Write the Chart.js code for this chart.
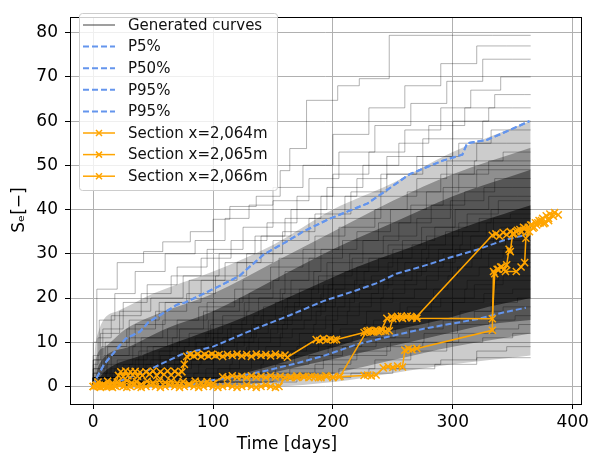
<!DOCTYPE html>
<html>
<head>
<meta charset="utf-8">
<script src="https://cdn.jsdelivr.net/npm/chart.js@4.4.0/dist/chart.umd.min.js"></script>
<style>
  html, body { margin: 0; padding: 0; background: #fff; }
  canvas { display: block; }
</style>
</head>
<body>
<canvas id="chart" width="592" height="458"></canvas>
<script>
// Tick labels
const xTicks = [0, 100, 200, 300, 400];
const yTicks = [0, 10, 20, 30, 40, 50, 60, 70, 80];

// Generated curves, read off the picture as flat [t, S, t, S, ...] step points
const generatedCurves = [
  [0,0, 3,10, 20,22, 42,28, 58,30.5, 81,32.7, 100,35, 114,37.8, 136,40.7, 156,43, 164,48.8, 178,53.8, 204,64.7, 222,68, 247,69.6, 333,79.4, 365,79.4],
  [0,0, 5,7, 18,15, 35,21, 60,26, 85,30, 110,33, 130,38, 150,41, 175,45, 200,50, 230,57, 260,63, 290,68, 320,73, 345,77, 365,77],
  [0,0, 8,6, 25,13, 45,19, 70,23, 95,27, 125,31, 150,36, 180,42, 205,47, 235,53, 265,59, 295,64, 325,69, 350,74, 365,74],
  [0,0, 4,5, 15,11, 40,16, 65,21, 90,25, 115,29, 145,33, 170,37, 200,43, 230,48, 260,53, 290,58, 315,63, 340,67, 355,70, 365,70],
  [0,0, 10,4, 30,10, 55,15, 80,19, 110,24, 140,28, 165,34, 195,40, 225,45, 255,50, 280,55, 310,59, 335,63, 360,66, 365,66],
  [0,0, 6,6, 22,12, 48,17, 75,20, 105,25, 135,30, 160,34, 190,38, 220,43, 245,47, 275,52, 300,56, 330,60, 350,63, 365,63],
  [0,0, 12,3, 35,9, 60,14, 90,19, 120,24, 150,28, 180,33, 210,38, 240,43, 270,48, 300,52, 325,56, 345,60, 365,60],
  [0,0, 7,4, 28,9, 52,13, 78,17, 102,21, 128,25, 158,30, 185,35, 215,39, 245,44, 275,48, 305,52, 332,55, 352,58, 365,58],
  [0,0, 15,2, 40,7, 70,11, 95,15, 125,19, 155,24, 185,29, 210,34, 240,38, 270,43, 295,47, 320,51, 345,55, 365,55],
  [0,0, 9,3, 30,7, 58,11, 88,15, 118,18, 148,22, 175,27, 205,31, 235,36, 262,40, 290,44, 318,48, 342,51, 358,53, 365,53],
  [0,0, 20,2, 45,6, 72,9, 100,13, 130,17, 160,21, 190,26, 220,31, 248,35, 278,40, 305,44, 330,48, 355,51, 365,51],
  [0,0, 11,2, 33,5, 62,9, 92,13, 122,17, 150,20, 180,24, 208,29, 238,33, 265,37, 292,41, 320,45, 348,49, 365,49],
  [0,0, 25,2, 50,5, 80,9, 108,12, 138,16, 165,20, 195,24, 225,28, 255,33, 282,37, 310,41, 335,44, 357,47, 365,47],
  [0,0, 14,1, 38,4, 66,8, 96,11, 126,15, 156,19, 184,22, 214,26, 242,30, 270,34, 298,38, 326,42, 350,45, 365,45],
  [0,0, 18,2, 42,4, 70,7, 98,10, 128,14, 158,17, 188,21, 216,25, 246,29, 274,32, 302,36, 330,40, 354,43, 365,43],
  [0,0, 30,2, 55,5, 85,8, 115,11, 142,14, 172,18, 200,22, 230,26, 258,29, 285,33, 312,36, 338,39, 360,42, 365,42],
  [0,0, 22,1, 48,3, 76,6, 104,9, 134,13, 162,16, 192,20, 220,23, 250,27, 278,31, 305,34, 332,37, 356,40, 365,40],
  [0,0, 10,1, 35,3, 64,6, 94,9, 124,12, 152,15, 182,19, 210,22, 238,26, 266,29, 294,32, 322,35, 348,38, 365,39],
  [0,0, 28,2, 56,4, 86,7, 112,10, 140,13, 168,16, 196,19, 226,23, 254,26, 280,29, 308,32, 334,35, 358,38, 365,38],
  [0,0, 16,1, 44,3, 72,5, 100,8, 132,11, 160,14, 190,18, 218,21, 246,24, 274,28, 300,31, 328,34, 352,37, 365,37],
  [0,0, 35,2, 60,4, 90,6, 118,9, 146,12, 174,15, 202,18, 232,22, 260,25, 288,28, 315,31, 340,34, 362,36, 365,36],
  [0,0, 24,1, 52,3, 80,5, 108,8, 136,11, 166,14, 194,17, 222,20, 250,23, 278,26, 306,29, 334,32, 355,35, 365,35],
  [0,0, 40,2, 68,4, 96,6, 126,9, 154,12, 182,15, 210,18, 238,21, 266,24, 292,27, 318,30, 344,32, 360,34, 365,34],
  [0,0, 20,1, 50,2, 78,4, 106,7, 134,10, 162,13, 190,16, 218,19, 246,22, 274,25, 302,28, 328,31, 352,33, 365,33],
  [0,0, 45,2, 74,4, 102,6, 130,8, 158,11, 186,14, 214,17, 242,20, 270,23, 298,26, 324,29, 348,31, 365,32],
  [0,0, 32,1, 62,3, 90,5, 120,7, 148,10, 176,13, 204,15, 232,18, 260,21, 288,24, 316,27, 342,29, 362,31, 365,31],
  [0,0, 50,2, 82,4, 110,6, 138,8, 166,11, 194,13, 222,16, 250,19, 278,22, 304,25, 330,27, 354,30, 365,30],
  [0,0, 38,1, 70,3, 100,5, 128,7, 156,9, 184,12, 212,14, 240,17, 268,20, 296,22, 322,25, 346,27, 365,28],
  [0,0, 55,1, 88,3, 116,5, 144,7, 172,9, 200,12, 228,14, 256,17, 284,19, 312,22, 338,24, 358,27, 365,27],
  [0,0, 60,1, 94,2, 122,4, 150,6, 178,8, 206,10, 234,13, 262,15, 290,18, 318,20, 342,23, 360,25, 365,25],
  [0,0, 48,1, 84,2, 114,3, 142,5, 170,7, 198,9, 226,12, 254,14, 282,17, 310,19, 336,22, 356,24, 365,24],
  [0,0, 70,1, 104,2, 132,4, 160,6, 188,8, 216,10, 244,12, 272,14, 300,17, 326,19, 350,21, 365,22],
  [0,0, 80,1, 112,2, 140,3, 168,5, 196,7, 224,9, 252,11, 280,13, 306,15, 332,17, 354,19, 365,20],
  [0,0, 92,1, 124,2, 152,3, 180,5, 208,7, 236,9, 264,11, 292,13, 318,15, 342,17, 365,18],
  [0,0, 100,1, 136,2, 164,3, 192,4, 220,6, 248,8, 276,10, 304,12, 330,14, 352,15, 365,16],
  [0,0, 110,1, 150,2, 185,3, 215,5, 245,7, 275,9, 305,10, 335,12, 355,13, 365,14],
  [0,0, 130,1, 170,2, 205,3, 235,4, 265,6, 295,8, 325,10, 350,11, 365,12],
  [0,0, 150,1, 195,2, 230,3, 260,4, 290,5, 320,6, 345,8, 365,9],
  [0,0, 170,1, 215,2, 250,3, 285,4, 320,5, 350,6.5, 365,6.5]
];

// Where the curves pile up: nested zones, each darker than the one around it
const massA = { low: [0,0, 150,0, 200,1, 250,3, 300,5, 365,7],
                high: [0,0, 2,10, 20,17, 50,21, 100,26, 150,32, 200,40, 250,46, 300,53, 365,60] };
const massB = { low: [0,0, 100,0, 150,1, 200,3, 250,6, 300,9, 365,12],
                high: [0,0, 2,6, 10,9, 27,13, 50,16, 100,21, 150,28, 200,35, 250,42, 300,48, 365,54] };
const massC = { low: [0,0, 80,0, 130,2, 180,5, 230,8, 280,11, 330,14, 365,15],
                high: [0,0, 5,5, 30,9, 60,13, 100,17, 150,24, 200,31, 250,37, 300,43, 365,49] };
const massD = { low: [0,0, 90,1, 140,4, 190,8, 240,12, 290,15, 330,18, 365,20],
                high: [0,0, 10,3.5, 40,7, 80,11, 120,15, 170,21, 220,27, 270,32, 320,37, 365,41] };

// Percentile curves [t, S, ...]
const p5 = [0,0, 80,0, 89,1, 117,2.1, 145,3.6, 172,5.4, 192,6.9, 220,9.5, 247,11.3, 275,13, 297,14.1, 320,15.2, 342,16.7, 361,17.8];
const p50 = [0,0, 20,1, 42,3.2, 74,7.3, 100,9, 133,12.8, 164,16.1, 192,19.3, 217,21.5, 236,23.3, 253,25.5, 275,27.2, 297,29.1, 320,30.9, 342,33, 364,34.5];
const p95 = [0,0, 2,1.5, 9,5, 27,10.8, 39,12.4, 46,14.5, 70,18.5, 77,19, 106,22.8, 122,25, 142,29.8, 161,32.7, 175,35, 197,37.9, 229,41.4, 245,44.4, 264,48, 291,51, 308,52.4, 312,55, 328,55.7, 347,57.9, 364,60];

// Measured sections [t, S, ...]
const section2064 = [
  0,0, 2,0.2, 4,0, 6,-0.2, 8,0, 10,0.3, 13,0, 16,-0.2, 19,0, 22,0.3, 25,0, 28,-0.2, 31,0, 34,0.3, 37,0, 40,-0.2,
  44,0, 48,0.3, 52,0, 56,-0.2, 60,0, 64,0.3, 68,0, 72,-0.2, 76,0, 80,0.3, 84,0, 88,-0.2, 92,0, 96,0.3, 100,0,
  104,-0.2, 108,0, 112,0.3, 116,0, 120,-0.2, 124,0, 128,0.3, 132,0, 136,-0.2, 140,0, 144,0.3, 148,0, 152,-0.2, 155,0,
  160,2, 165,2.2, 170,2, 175,2.3, 180,2, 185,2.2, 190,2, 195,2.3, 200,2, 205,2.2,
  226,2.5, 229,2.6, 232,2.4, 236,2.6, 242,4.2, 246,4.5, 250,4.3, 254,4.6, 258,4.4, 260,8.2, 263,8.5, 266,8.3, 270,8.6,
  333,12.7, 334,26, 337,26.5, 340,27, 343,26.5, 345,27.5, 347,31, 348,30.5, 350,34.5, 353,35, 356,35.5, 359,36,
  362,35, 365,36.5, 368,36, 371,37, 374,37.5, 377,37, 380,38, 384,38.5
];
const section2065 = [
  0,0, 3,0.3, 6,0, 9,0.2, 12,0, 15,0, 18,0.2, 21,2.5, 23,3.3, 25,2.2, 27,3.5, 29,2.4, 31,3.3, 33,2.6, 35,3.4, 37,2.3,
  39,3.2, 41,2.5, 44,3.3, 47,2.8, 50,3.5, 53,2.5, 56,3.3, 59,2.7, 62,3.5, 65,2.6, 68,3.4, 71,2.8, 74,3.3, 76,5,
  78,6.8, 81,7.2, 84,6.9, 87,7.3, 90,6.8, 93,7.2, 96,6.9, 99,7.3, 102,7, 105,7.2, 108,6.8, 112,7.2, 116,7, 120,7.3,
  124,6.9, 128,7.2, 132,6.8, 136,7.3, 140,7, 144,7.2, 148,6.9, 152,7.3, 156,7, 160,7.1, 162,6.6,
  186,10.6, 189,10.4, 192,10.8, 195,10.5, 198,10.7, 201,10.5, 203,10.6,
  226,12.2, 229,12.6, 232,12.3, 235,12.7, 238,12.4, 241,12.8, 244,12.5, 247,12.6,
  250,15.3, 254,15.8, 258,15.4, 262,15.9, 266,15.5, 270,15.8,
  333,34.2, 336,34.5, 339,34, 342,34.8, 345,34.3, 348,35, 351,34.6, 354,35.3, 357,35, 360,35.8, 363,36,
  366,36.5, 369,37, 372,37.5, 375,38, 378,38.6, 381,39, 385,39.3, 388,38.8
];
const section2066 = [
  0,0, 4,1, 8,0.5, 12,1.2, 16,0.8, 20,1, 24,0.6, 28,1.3, 32,0.8, 36,1.1, 40,0.5, 45,1.2, 50,0.8, 55,1.3, 60,0.9,
  65,1.2, 70,0.8, 75,1.1, 80,0.6, 85,1.2, 90,0.9, 95,1.1, 100,0.7,
  108,2.2, 112,2, 116,2.4, 120,2.1, 124,2.3, 128,2, 132,2.4, 136,2.1, 140,2.3, 144,2, 148,2.4, 152,2.1, 156,2.3,
  164,2, 170,2.4, 176,2.1, 182,2.3, 188,2, 194,2.4, 200,2.1, 206,2.3,
  228,12.4, 231,12.7, 234,12.3, 237,12.6, 240,12.5, 245,15.4, 249,15.8, 253,15.5, 257,15.9, 261,15.6, 265,15.8, 270,15.4,
  333,15.3, 335,25.5, 338,26.5, 341,27, 344,26, 353,26, 357,27, 360,28, 361,33.5, 364,35, 367,35.8, 370,36.5,
  373,37, 376,36.8, 380,37.5
];

function toPoints(flat) {
  const pts = [];
  for (let i = 0; i < flat.length; i += 2) pts.push({ x: flat[i], y: flat[i + 1] });
  return pts;
}

const FONT = 'DejaVu Sans';
const BLUE = '#6495ED';
const ORANGE = '#FFA500';

const datasets = [];

// a zone of the dark mass: its low edge, and its high edge filled down to it
function addMass(zone, color) {
  const lowIndex = datasets.length;
  const edge = { borderWidth: 0, pointRadius: 0, cubicInterpolationMode: 'monotone', order: 5 };
  datasets.push(Object.assign({ label: '', data: toPoints(zone.low), fill: false }, edge));
  datasets.push(Object.assign({ label: '', data: toPoints(zone.high), fill: lowIndex, backgroundColor: color }, edge));
}

generatedCurves.forEach((c, i) => {
  datasets.push({
    label: i === 0 ? 'Generated curves' : '',
    data: toPoints(c),
    borderColor: 'rgba(0,0,0,0.3)',
    borderWidth: 1,
    pointRadius: 0,
    stepped: 'after',
    order: 3
  });
});

[['P5%', p5], ['P50%', p50], ['P95%', p95], ['P95%', p95]].forEach(([label, d]) => {
  datasets.push({
    label: label,
    data: toPoints(d),
    borderColor: BLUE,
    borderWidth: 2,
    borderDash: [6, 3],
    pointRadius: 0,
    order: 2
  });
});

[['Section x=2,064m', section2064], ['Section x=2,065m', section2065], ['Section x=2,066m', section2066]].forEach(([label, d]) => {
  datasets.push({
    label: label,
    data: toPoints(d),
    borderColor: ORANGE,
    backgroundColor: ORANGE,
    borderWidth: 1.5,
    pointStyle: 'crossRot',
    pointRadius: 5,
    pointBorderWidth: 1.5,
    pointBorderColor: ORANGE,
    order: 1
  });
});

addMass(massA, 'rgba(0,0,0,0.2)');
addMass(massB, 'rgba(0,0,0,0.3)');
addMass(massC, 'rgba(0,0,0,0.4)');
addMass(massD, 'rgba(0,0,0,0.55)');

// Axis frame, axis titles and legend box
const decorations = {
  id: 'decorations',
  afterDraw(chart) {
    const ctx = chart.ctx;
    const a = chart.chartArea;
    ctx.save();
    ctx.strokeStyle = '#000';
    ctx.lineWidth = 1;
    ctx.strokeRect(Math.round(a.left) + 0.5, Math.round(a.top) + 0.5, Math.round(a.right - a.left) - 1, Math.round(a.bottom - a.top));

    ctx.fillStyle = '#000';
    ctx.font = '17px "' + FONT + '"';
    ctx.textAlign = 'center';
    ctx.textBaseline = 'middle';
    ctx.fillText('Time [days]', 287, 445);
    ctx.save();
    ctx.translate(20, 210);
    ctx.rotate(-Math.PI / 2);
    ctx.fillText('S\u2091[\u2212]', 0, 0);
    ctx.restore();

    // legend
    const bx = 79, by = 13, bw = 198, bh = 177;
    ctx.fillStyle = 'rgba(255,255,255,0.8)';
    ctx.strokeStyle = '#cccccc';
    ctx.beginPath();
    ctx.roundRect(bx + 0.5, by + 0.5, bw, bh, 3);
    ctx.fill();
    ctx.stroke();

    const items = chart.data.datasets.filter(d => d.label);
    ctx.font = '15px "' + FONT + '"';
    ctx.textAlign = 'left';
    items.forEach((d, i) => {
      const y = 25 + i * 21.6;
      ctx.save();
      ctx.strokeStyle = d.label === 'Generated curves' ? 'rgba(0,0,0,0.5)' : d.borderColor;
      ctx.lineWidth = d.label === 'Generated curves' ? 1.5 : d.borderWidth;
      ctx.setLineDash(d.borderDash || []);
      ctx.beginPath();
      ctx.moveTo(83, y);
      ctx.lineTo(115, y);
      ctx.stroke();
      if (d.pointStyle === 'crossRot') {
        ctx.setLineDash([]);
        ctx.beginPath();
        ctx.moveTo(96, y - 3);
        ctx.lineTo(102, y + 3);
        ctx.moveTo(96, y + 3);
        ctx.lineTo(102, y - 3);
        ctx.stroke();
      }
      ctx.restore();
      ctx.fillStyle = '#111';
      ctx.fillText(d.label, 128, y + 1);
    });
    ctx.restore();
  }
};

new Chart(document.getElementById('chart'), {
  type: 'line',
  data: { datasets: datasets },
  options: {
    responsive: false,
    devicePixelRatio: 1,
    animation: false,
    layout: { padding: { top: 5, right: 10, left: 0, bottom: 0 } },
    plugins: {
      legend: { display: false },
      tooltip: { enabled: false },
      filler: { propagate: false }
    },
    scales: {
      x: {
        type: 'linear',
        min: -19.4,
        max: 407.5,
        afterBuildTicks: s => { s.ticks = xTicks.map(v => ({ value: v })); },
        afterFit: s => { s.height = 54; },
        ticks: { color: '#000', font: { family: FONT, size: 17 }, padding: 3, maxRotation: 0 },
        grid: { color: '#b0b0b0', lineWidth: 1, tickColor: '#000', tickLength: 5 },
        border: { display: false }
      },
      y: {
        type: 'linear',
        min: -3.97,
        max: 83.5,
        afterBuildTicks: s => { s.ticks = yTicks.map(v => ({ value: v })); },
        afterFit: s => { s.width = 70; },
        ticks: { color: '#000', font: { family: FONT, size: 17 }, padding: 7 },
        grid: { color: '#b0b0b0', lineWidth: 1, tickColor: '#000', tickLength: 5 },
        border: { display: false }
      }
    }
  },
  plugins: [decorations]
});
</script>
</body>
</html>
